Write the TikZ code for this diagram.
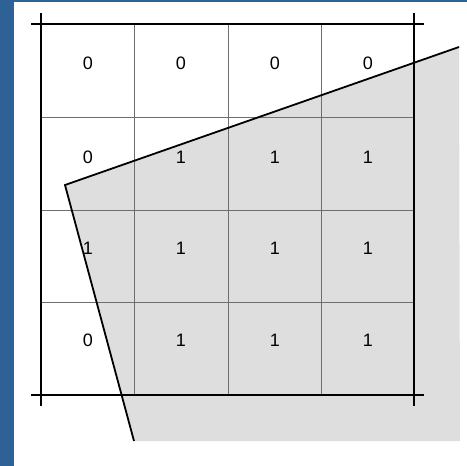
\documentclass[tikz,border=0pt]{standalone}
\usepackage{fontspec}
\setmainfont{Liberation Sans}
\usepackage{xcolor}
\definecolor{rimblue}{RGB}{46,97,150}
\definecolor{covergray}{RGB}{222,222,222}
\definecolor{gridgray}{RGB}{110,110,110}
\usetikzlibrary{positioning}

\tikzset{
  cellval/.style={font=\fontsize{18}{20}\selectfont, inner sep=0pt},
  gridthin/.style={draw=gridgray, line width=0.9pt},
  framethick/.style={draw=black, line width=2.8pt},
  edgeline/.style={draw=black, line width=1.8pt}
}

\begin{document}
\begin{tikzpicture}[x=1pt, y=-1pt]
  \useasboundingbox (0,0) rectangle (467,466);
  \fill[white] (0,0) rectangle (467,466);
  % blue rim
  \fill[rimblue] (0,0) rectangle (14,466);
  \fill[rimblue] (0,0) rectangle (467,2);

  % covered region
  \coordinate (pa) at (65,185);
  \coordinate (pb) at (459,47);
  \coordinate (pc) at (460,441);
  \coordinate (pd) at (134,441);
  \fill[covergray] (pa) -- (pb) -- (pc) -- (pd) -- cycle;

  % grid
  \foreach \gx in {134,228,321} \draw[gridthin] (\gx,24) -- (\gx,395);
  \foreach \gy in {117,210,302} \draw[gridthin] (41,\gy) -- (414,\gy);

  % frame
  \draw[framethick] (31,24) -- (424,24);
  \draw[framethick] (31,395) -- (424,395);
  \draw[framethick] (41,13) -- (41,406);
  \draw[framethick] (414,13) -- (414,406);

  % polygon edges
  \draw[edgeline] (pb) -- (pa) -- (pd);

  % cell values
  \node[cellval] (c11) at (88,63) {0};
  \node[cellval] (c12) at (181,63) {0};
  \node[cellval] (c13) at (275,63) {0};
  \node[cellval] (c14) at (368,63) {0};
  \node[cellval] (c21) at (88,157) {0};
  \node[cellval] (c22) at (181,157) {1};
  \node[cellval] (c23) at (275,157) {1};
  \node[cellval] (c24) at (368,157) {1};
  \node[cellval] (c31) at (88,248) {1};
  \node[cellval] (c32) at (181,248) {1};
  \node[cellval] (c33) at (275,248) {1};
  \node[cellval] (c34) at (368,248) {1};
  \node[cellval] (c41) at (88,340) {0};
  \node[cellval] (c42) at (181,340) {1};
  \node[cellval] (c43) at (275,340) {1};
  \node[cellval] (c44) at (368,340) {1};
\end{tikzpicture}
\end{document}
